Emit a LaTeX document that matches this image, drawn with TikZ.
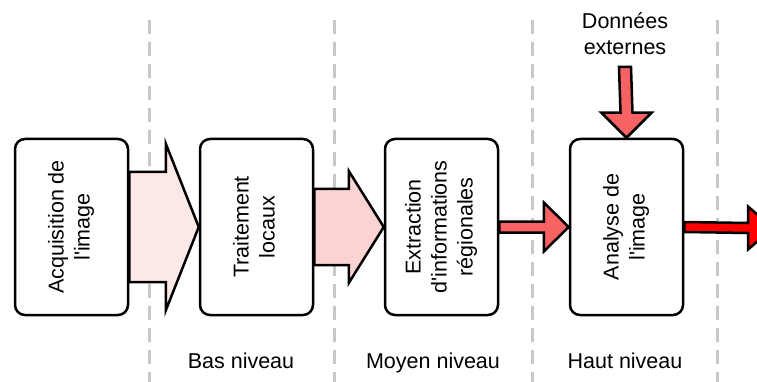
\documentclass[tikz,border=0pt]{standalone}
\usepackage{fontspec}
\setmainfont{Liberation Sans}[Ligatures=TeXOff]
\usetikzlibrary{calc}

\definecolor{rosepale}{HTML}{FDE8E8}
\definecolor{rose}{HTML}{FCD3D3}
\definecolor{rouge}{HTML}{F86262}
\definecolor{rougevif}{HTML}{FF0000}
\definecolor{gristrait}{HTML}{C8C8C8}

\newcommand{\vtexte}[1]{\rotatebox{90}{\begin{tabular}{@{}c@{}}#1\end{tabular}}}
% block arrow: style, from, to, shaft half width, head half width, head length
\newcommand{\fleche}[6]{%
\draw[#1] (#2) -- ($(#2)+(0,-#4)$) -- ($(#3)+(-#6,-#4)$) -- ($(#3)+(-#6,-#5)$) -- (#3)
  -- ($(#3)+(-#6,#5)$) -- ($(#3)+(-#6,#4)$) -- ($(#2)+(0,#4)$) -- cycle;}

\tikzset{
  police/.style={font=\fontsize{21.5}{26}\selectfont},
  etape/.style={shape=rectangle, draw, line width=2.5pt, rounded corners=10pt, fill=white,
    minimum width=113pt, minimum height=176pt, inner sep=0pt, police},
  bloc/.style={draw, line width=2.5pt, fill=#1},
  separ/.style={draw=gristrait, line width=3pt, dash pattern=on 14pt off 8pt}
}

\begin{document}
\begin{tikzpicture}[x=1pt,y=-1pt]
\clip (0,0) rectangle (757,382);

%%% niveaux
\foreach \xs in {149,334,532,717}
  \draw[separ] (\xs,20) -- (\xs,382);

%%% etapes
\node[etape] (acq)   at (71.5,227)  {\vtexte{Acquisition de\\l'image}};
\node[etape] (trait) at (256.5,227) {\vtexte{Traitement\\locaux}};
\node[etape] (extr)  at (441.5,227) {\vtexte{Extraction\\d'informations\\régionales}};
\node[etape] (anal)  at (626.5,227) {\vtexte{Analyse de\\l'image}};

\coordinate (sortie) at (773,228);
\coordinate (haut) at (625,67);
\node[police, align=center, inner sep=0pt, anchor=south] (donnees) at (625,55) {Données\\externes};

%%% fleches
\fleche{bloc=rosepale}{acq.east}{trait.west}{55}{83.5}{33}
\fleche{bloc=rose}{trait.east}{extr.west}{38}{56}{35}
\fleche{bloc=rouge}{extr.east}{anal.west}{5.5}{24.5}{25}
\fleche{bloc=rougevif}{anal.east}{sortie}{5}{21.5}{25}
\draw[bloc=rouge] ($(haut)+(-6,0)$) -- ($(anal.north)+(-6,-25)$) -- ($(anal.north)+(-25,-25)$) -- (anal.north)
  -- ($(anal.north)+(25,-25)$) -- ($(anal.north)+(6,-25)$) -- ($(haut)+(6,0)$) -- cycle;

%%% labels
\node[police, anchor=base] (bas)   at (241,368) {Bas niveau};
\node[police, anchor=base] (moyen) at (433,368) {Moyen niveau};
\node[police, anchor=base] (haut2) at (625,368) {Haut niveau};

\end{tikzpicture}
\end{document}
